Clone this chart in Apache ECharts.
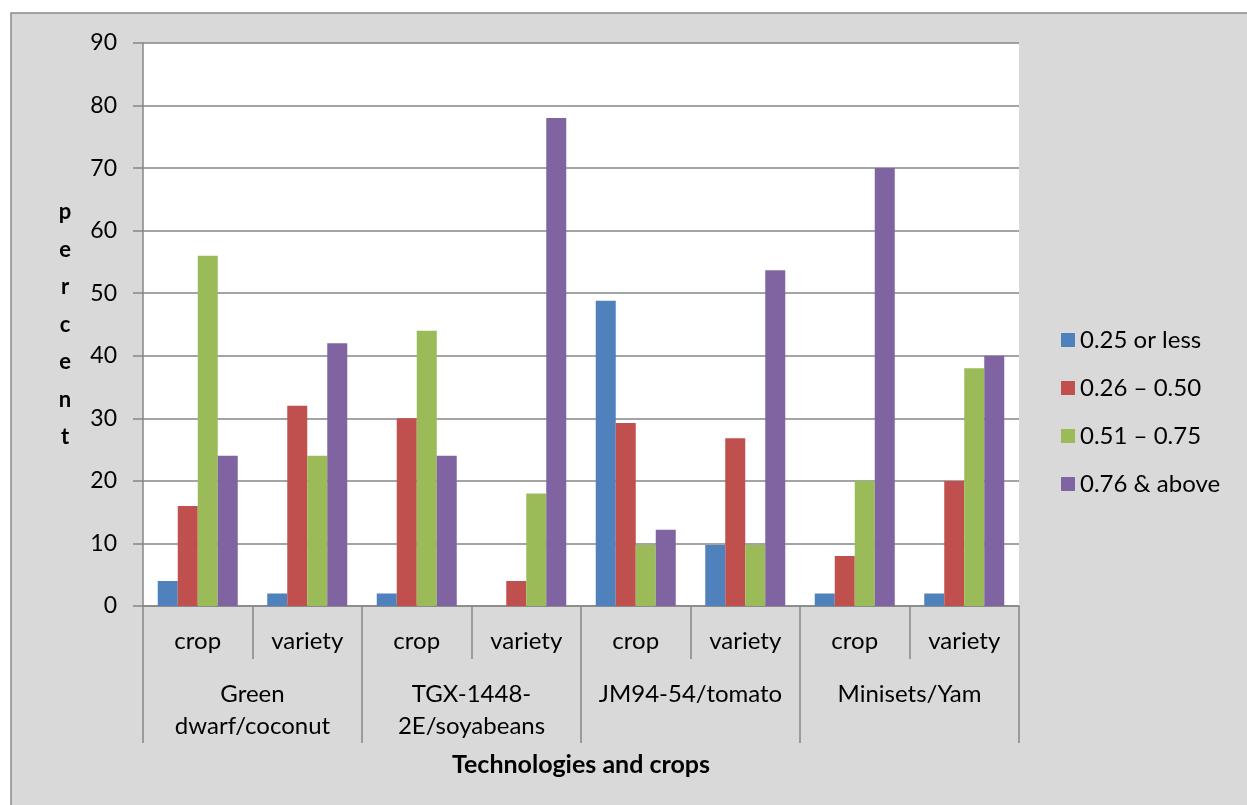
<!DOCTYPE html>
<html>
<head>
<meta charset="utf-8">
<script src="https://cdn.jsdelivr.net/npm/echarts@6/dist/echarts.min.js"></script>
<style>
  html, body { margin: 0; padding: 0; background: #fff; }
  #chart { width: 1247px; height: 805px; }
</style>
</head>
<body>
<div id="chart"></div>
<script>
// Adoption index shares by technology and crop
const subCategories = ['crop', 'variety', 'crop', 'variety', 'crop', 'variety', 'crop', 'variety'];
const groupLabels = ['Green\ndwarf/coconut', 'TGX-1448-\n2E/soyabeans', 'JM94-54/tomato', 'Minisets/Yam'];
const seriesNames = ['0.25 or less', '0.26 – 0.50', '0.51 – 0.75', '0.76 & above'];
const lowValues = [4, 2, 2, 0, 48.78, 9.76, 2, 2];
const lowMidValues = [16, 32, 30, 4, 29.27, 26.83, 8, 20];
const highMidValues = [56, 24, 44, 18, 9.76, 9.76, 20, 38];
const highValues = [24, 42, 24, 78, 12.2, 53.66, 70, 40];
const yTicks = { min: 0, max: 90, interval: 10 };

const palette = ['#4F81BD', '#C0504D', '#9BBB59', '#8064A2'];
const seriesValues = [lowValues, lowMidValues, highMidValues, highValues];
const FONT = 'Lato';
const AXIS_GRAY = '#868686';

const chart = echarts.init(document.getElementById('chart'));
chart.setOption({
  backgroundColor: '#ffffff',
  color: palette,
  textStyle: { fontFamily: FONT },
  graphic: [{
    type: 'rect',
    z: -10,
    shape: { x: 11, y: 13, width: 1300, height: 900 },
    style: { fill: '#D9D9D9', stroke: '#8a8a8a', lineWidth: 1.5 }
  }],
  grid: {
    left: 143, top: 43, right: 228, bottom: 199,
    show: true, backgroundColor: '#ffffff', borderWidth: 0
  },
  legend: {
    orient: 'vertical',
    left: 1056, top: 323,
    itemWidth: 14, itemHeight: 14, itemGap: 24,
    icon: 'rect',
    textStyle: { fontFamily: FONT, fontSize: 24, color: '#000', lineHeight: 24 },
    data: seriesNames
  },
  xAxis: [{
    type: 'category',
    data: subCategories,
    position: 'bottom',
    axisLine: { show: true, lineStyle: { color: AXIS_GRAY, width: 1.5 } },
    axisTick: { show: true, interval: 0, length: 53, lineStyle: { color: AXIS_GRAY, width: 1.5 } },
    axisLabel: { interval: 0, margin: 23, fontSize: 24, lineHeight: 24, color: '#000', fontFamily: FONT }
  }, {
    type: 'category',
    data: groupLabels,
    position: 'bottom',
    axisLine: { show: false },
    axisTick: { show: true, interval: 0, length: 137, lineStyle: { color: AXIS_GRAY, width: 1.5 } },
    axisLabel: { interval: 0, margin: 72, fontSize: 24, lineHeight: 32, color: '#000', fontFamily: FONT },
    name: 'Technologies and crops',
    nameLocation: 'middle',
    nameGap: 146,
    nameTextStyle: { fontSize: 25, fontWeight: 'bold', color: '#000', fontFamily: FONT }
  }],
  yAxis: {
    type: 'value',
    min: yTicks.min, max: yTicks.max, interval: yTicks.interval,
    axisLine: { show: true, lineStyle: { color: AXIS_GRAY, width: 1.5 } },
    axisTick: { show: true, length: 10, lineStyle: { color: AXIS_GRAY, width: 1.5 } },
    axisLabel: { margin: 26, fontSize: 23, color: '#000', fontFamily: FONT },
    splitLine: { show: true, lineStyle: { color: AXIS_GRAY, width: 1.5 } },
    name: 'p\ne\nr\nc\ne\nn\nt',
    nameLocation: 'middle',
    nameRotate: 0,
    nameGap: 78,
    nameTextStyle: { fontSize: 22, fontWeight: 'bold', color: '#000', lineHeight: 37.5, align: 'center', fontFamily: FONT }
  },
  series: seriesNames.map((name, i) => ({
    name,
    type: 'bar',
    xAxisIndex: 0,
    data: seriesValues[i],
    barWidth: 20,
    barGap: '0%',
    itemStyle: { color: palette[i] }
  }))
});
</script>
</body>
</html>
